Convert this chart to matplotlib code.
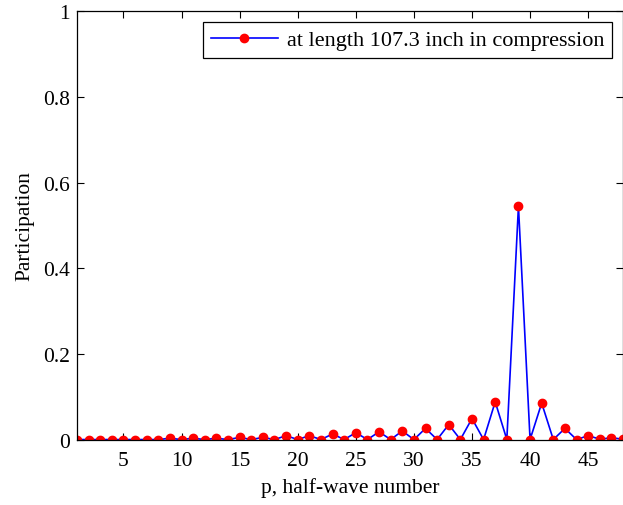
import matplotlib
matplotlib.use("Agg")
import matplotlib.pyplot as plt
import numpy as np

plt.rcParams["font.family"] = ["Liberation Serif", "DejaVu Serif"]

# half-wave number p and participation values
p = np.arange(1, 49)
participation = [
    0.001, 0.001, 0.001, 0.001, 0.001, 0.001, 0.001, 0.001,  # 1-8
    0.004, 0.001, 0.004, 0.001, 0.004, 0.001, 0.006, 0.001,  # 9-16
    0.006, 0.001, 0.010, 0.001, 0.010, 0.001, 0.014, 0.001,  # 17-24
    0.017, 0.001, 0.019, 0.001, 0.021, 0.001, 0.027, 0.001,  # 25-32
    0.036, 0.001, 0.050, 0.001, 0.089, 0.001, 0.545, 0.001,  # 33-40
    0.086, 0.001, 0.027, 0.001, 0.010, 0.002, 0.005, 0.002,  # 41-48
]
series_label = "at length 107.3 inch in compression"

fig = plt.figure(figsize=(6.23, 5.06), dpi=100)
ax = fig.add_axes([0.1236, 0.1285, 0.8764, 0.8478])

ax.plot(p, participation, color="blue", lw=1.2, marker="o", ms=6,
        mfc="red", mec="red", label=series_label)

ax.set_xlim(1, 48)
ax.set_ylim(0, 1)
ax.set_xticks(np.arange(5, 50, 5))
ax.set_yticks([0, 0.2, 0.4, 0.6, 0.8, 1])
ax.set_yticklabels(["0", "0.2", "0.4", "0.6", "0.8", "1"])
ax.tick_params(direction="in", top=True, right=True, length=5, width=0.8,
               labelsize=15.5)
ax.tick_params(axis="x", pad=8)
ax.tick_params(axis="y", pad=5)
for s in ax.spines.values():
    s.set_linewidth(0.9)

ax.set_xlabel("p, half-wave number", fontsize=15.5, labelpad=5)
ax.set_ylabel("Participation", fontsize=15.5, labelpad=6)

leg = ax.legend(loc="upper right", numpoints=1, fontsize=16, fancybox=False,
                edgecolor="black", framealpha=1, borderaxespad=0.5,
                handlelength=3.0, handletextpad=0.4, borderpad=0.35)
leg.get_frame().set_linewidth(0.9)

fig.savefig("out.png", dpi=100)
